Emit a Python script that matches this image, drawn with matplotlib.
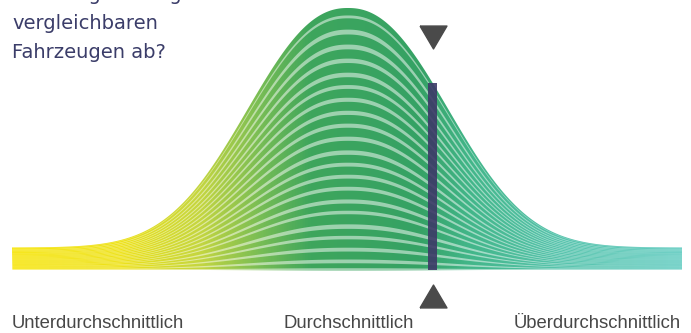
import numpy as np
import matplotlib
matplotlib.use("Agg")
import matplotlib.pyplot as plt
from matplotlib.colors import LinearSegmentedColormap
from matplotlib.patches import PathPatch
from matplotlib.path import Path

# ---------------- data ----------------
score_min, score_max = -3.54, 3.52          # visible score range (in std units)
dist_mean = 0.0                              # centre of the distribution
dist_scale = 1.38                            # width parameter of the bell
dist_shape = 2.25                            # exponent of the bell
tail_level = 0.084                           # height of flat tails relative to peak
layer_levels = [0.0, 0.031, 0.076, 0.122, 0.164, 0.218, 0.260, 0.309, 0.355,
                0.401, 0.447, 0.500, 0.550, 0.599, 0.649, 0.698, 0.744, 0.798,
                0.851, 0.908, 0.966, 1.0]
marker_score = 0.89                          # position of "your vehicle"
category_labels = ["Unterdurchschnittlich", "Durchschnittlich", "Überdurchschnittlich"]
question_lines = ["Fahrzeug im Vergleich zu", "vergleichbaren", "Fahrzeugen ab?"]
gradient_pos = [-3.54, -2.40, -1.56, -0.93, -0.40, 0.76, 1.28, 2.23, 3.52]
gradient_col = ["#f7e507", "#eee21a", "#c4d640", "#78bd55", "#3ea65c",
                "#35a265", "#42b689", "#58c4ad", "#62ccc1"]

# ---------------- figure ----------------
W, H_PX = 691, 333
fig = plt.figure(figsize=(W / 100, H_PX / 100), dpi=100)
fig.patch.set_facecolor("white")
ax = fig.add_axes([12 / W, 0, 670 / W, 1])
ax.set_xlim(score_min, score_max)
y0_px, peak_px = 269.5, 8.0
unit = y0_px - peak_px
ax.set_ylim(-(H_PX - y0_px) / unit, y0_px / unit)
ax.axis("off")

def bell(s):
    g = np.exp(-(np.abs(s - dist_mean) / dist_scale) ** dist_shape)
    return tail_level + (1 - tail_level) * g

s = np.linspace(score_min, score_max, 1500)
h = bell(s)

# colour gradient
pos = (np.array(gradient_pos) - score_min) / (score_max - score_min)
cmap = LinearSegmentedColormap.from_list("grad", list(zip(pos, gradient_col)))
row = cmap(np.linspace(0, 1, 800))[None, :, :3]
light = row + (1 - row) * 0.5

ext = [score_min, score_max, -0.03, 1.02]
base_im = ax.imshow(row, extent=ext, aspect="auto", interpolation="bilinear", zorder=1)
outline = np.column_stack([np.r_[s, s[::-1]], np.r_[h, np.zeros_like(h)]])
clip1 = PathPatch(Path(outline, closed=True), transform=ax.transData,
                  facecolor="none", edgecolor="none")
base_im.set_clip_path(clip1)

# light stripes between layers
paths = []
lv = np.array(layer_levels)
for k in range(len(lv) - 1):
    d = lv[k + 1] - lv[k]
    lo, hi = lv[k] - 0.16 * d, lv[k] + 0.16 * d
    poly = np.column_stack([np.r_[s, s[::-1]], np.r_[hi * h, (lo * h)[::-1]]])
    paths.append(Path(poly, closed=True))
stripe_path = Path.make_compound_path(*paths)
light_im = ax.imshow(light, extent=ext, aspect="auto", interpolation="bilinear", zorder=2)
clip2 = PathPatch(stripe_path, transform=ax.transData, facecolor="none", edgecolor="none")
light_im.set_clip_path(clip2)

# marker bar
ax.bar([marker_score], [bell(np.array(marker_score))], width=0.1, bottom=0,
       color="#3d3968", alpha=0.9, zorder=3, linewidth=0)

# triangles
down = [(-1, 0.85), (1, 0.85), (0, -0.85), (-1, 0.85)]
up = [(-1, -0.85), (1, -0.85), (0, 0.85), (-1, -0.85)]
ax.plot([marker_score + 0.01], [(y0_px - 36.5) / unit], marker=down, ms=19.4,
        color="#4a4a4a", linestyle="none", zorder=4, clip_on=False)
ax.plot([marker_score + 0.01], [(y0_px - 295.5) / unit], marker=up, ms=19.4,
        color="#4a4a4a", linestyle="none", zorder=4, clip_on=False)

# question text (first line is cut off by the top edge, as in the reference)
qcol = "#3b3d69"
baselines = [0.0, 29.0, 58.0]
for line, b in zip(question_lines, baselines):
    fig.text(12 / W, 1 - b / H_PX, line, fontsize=14, family="DejaVu Sans",
             color=qcol, va="baseline", ha="left")

# category labels
lab_y = 1 - 328 / H_PX
fig.text(12 / W, lab_y, category_labels[0], fontsize=13.3, family="Liberation Sans",
         color="#474747", va="baseline", ha="left")
fig.text(348.5 / W, lab_y, category_labels[1], fontsize=13.3, family="Liberation Sans",
         color="#474747", va="baseline", ha="center")
fig.text(681 / W, lab_y, category_labels[2], fontsize=13.3, family="Liberation Sans",
         color="#474747", va="baseline", ha="right")

fig.savefig("out.png", dpi=100, facecolor="white")
